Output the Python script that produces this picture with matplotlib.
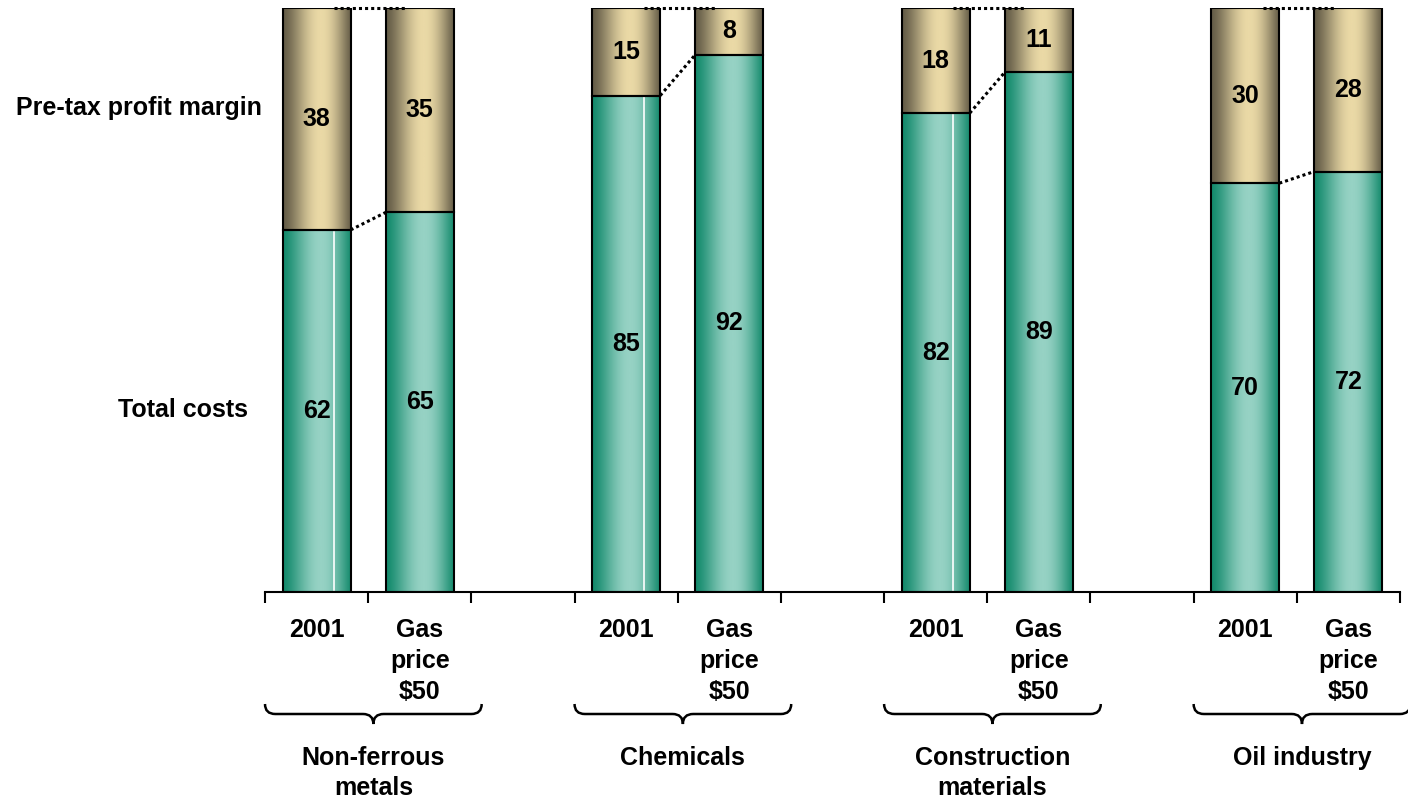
import numpy as np
import matplotlib.pyplot as plt
from matplotlib.path import Path
from matplotlib.patches import PathPatch
from matplotlib.colors import LinearSegmentedColormap
from matplotlib.transforms import blended_transform_factory

plt.rcParams['font.family'] = ['Liberation Sans', 'DejaVu Sans']
plt.rcParams['font.weight'] = 'bold'

# data
groups = ['Non-ferrous\nmetals', 'Chemicals', 'Construction\nmaterials', 'Oil industry']
bar_labels = ['2001', 'Gas\nprice\n$50']
costs = [62, 65, 85, 92, 82, 89, 70, 72]
margins = [38, 35, 15, 8, 18, 11, 30, 28]
series_labels = ['Pre-tax profit margin', 'Total costs']

W, H = 1408, 798
FS = 18
fig = plt.figure(figsize=(W / 100, H / 100), dpi=100)
ax = fig.add_axes([265 / W, 1 - 592 / H, 1135 / W, 584 / H])
ax.set_xlim(-0.5, 10.5)
ax.set_ylim(0, 100)

def fy(py):
    return 1 - py / H

teal = LinearSegmentedColormap.from_list('teal', ['#138a6c', '#96d2c4'])
tan = LinearSegmentedColormap.from_list('tan', ['#645c47', '#ead9a6'])

# cylinder-like shading profile
t = np.linspace(0, 1, 200)
prof = np.sin(np.pi * t ** 1.16) ** 1.2
grad = prof[np.newaxis, :]

width = 0.66
positions = []
for g in range(len(groups)):
    positions += [3 * g, 3 * g + 1]

for i, x in enumerate(positions):
    c, m = costs[i], margins[i]
    x0, x1 = x - width / 2, x + width / 2
    ax.imshow(grad, extent=[x0, x1, 0, c], cmap=teal, aspect='auto', zorder=2)
    ax.imshow(grad, extent=[x0, x1, c, c + m], cmap=tan, aspect='auto', zorder=2)
    ax.bar(x, c, width, fill=False, edgecolor='black', linewidth=1.5, zorder=3)
    ax.bar(x, m, width, bottom=c, fill=False, edgecolor='black', linewidth=1.5, zorder=3)
    if i % 2 == 0 and i < 6:
        xl = x0 + 0.76 * width
        ax.plot([xl, xl], [0.3, c - 0.3], color='white', lw=1.2, zorder=2.5)
    ax.text(x, c / 2, str(c), ha='center', va='center', fontsize=FS, zorder=4)
    ax.text(x, c + m / 2, str(m), ha='center', va='center', fontsize=FS, zorder=4)

# connector lines
for g in range(len(groups)):
    a, b = 2 * g, 2 * g + 1
    xa, xb = positions[a] + width / 2, positions[b] - width / 2
    ax.plot([xa, xb], [costs[a], costs[b]], color='black', ls=(0, (1, 1)), lw=2.2, zorder=4)
    ax.plot([xa - 0.16, xb + 0.2], [costs[a] + margins[a], costs[b] + margins[b]],
            color='black', ls=(0, (1, 1)), lw=2.2, zorder=4, clip_on=False)

for s in ['top', 'right', 'left']:
    ax.spines[s].set_visible(False)
ax.spines['bottom'].set_linewidth(1.5)
ax.set_yticks([])
ax.set_xticks(np.arange(-0.5, 10.6, 1))
ax.set_xticklabels([])
ax.tick_params(axis='x', direction='out', length=8, width=1.5)

tr = blended_transform_factory(ax.transData, fig.transFigure)
for i, x in enumerate(positions):
    lab = bar_labels[i % 2]
    ax.text(x, fy(618), lab, transform=tr, ha='center', va='top',
            fontsize=FS, linespacing=1.38)

for g, name in enumerate(groups):
    s0 = 3 * g
    xl, xr, xc = s0 - 0.5, s0 + 1.6, s0 + 0.55
    r = 0.1
    ye, yb, yt = fy(704), fy(714), fy(724)
    verts = [(xl, ye), (xl, yb), (xl + r, yb), (xc - r, yb), (xc, yb), (xc, yt),
             (xc, yb), (xc + r, yb), (xr - r, yb), (xr, yb), (xr, ye)]
    codes = [Path.MOVETO, Path.CURVE3, Path.CURVE3, Path.LINETO, Path.CURVE3, Path.CURVE3,
             Path.CURVE3, Path.CURVE3, Path.LINETO, Path.CURVE3, Path.CURVE3]
    ax.add_patch(PathPatch(Path(verts, codes), transform=tr, fill=False,
                           lw=1.8, edgecolor='black', clip_on=False))
    ax.text(xc, fy(746), name, transform=tr, ha='center', va='top',
            fontsize=FS, linespacing=1.32)

fig.text(262 / W, fy(108), series_labels[0], ha='right', va='center', fontsize=FS)
fig.text(248 / W, fy(410), series_labels[1], ha='right', va='center', fontsize=FS)

fig.savefig('out.png', dpi=100)
